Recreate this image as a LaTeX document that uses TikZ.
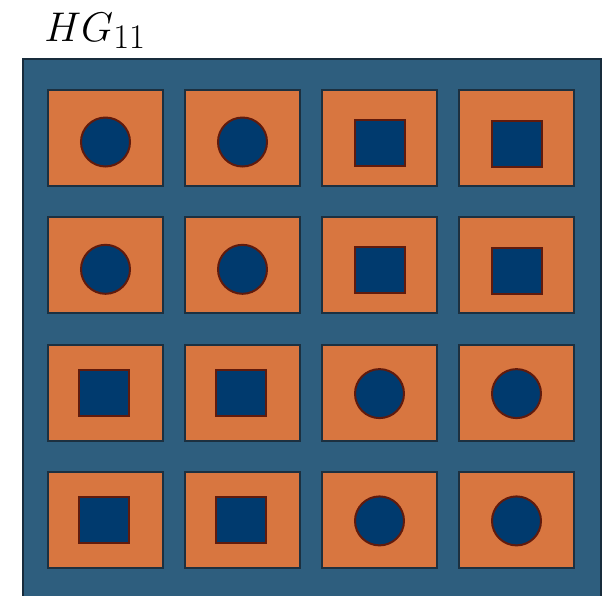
\documentclass[tikz,border=0pt]{standalone}
\usetikzlibrary{positioning}
\usepackage{amsmath}
\DeclareMathSizes{20.5}{20.5}{18}{14}
\definecolor{panelblue}{RGB}{46,94,126}
\definecolor{paneledge}{RGB}{24,44,60}
\definecolor{cellorange}{RGB}{216,118,64}
\definecolor{celledge}{RGB}{28,48,64}
\definecolor{markblue}{RGB}{0,58,110}
\definecolor{markedge}{RGB}{96,26,12}

\begin{document}
\begin{tikzpicture}[
    x=0.5pt, y=-0.5pt,
    panel/.style={
        draw=paneledge,
        fill=panelblue,
        line width=0.8pt
    },
    cell/.style={
        draw=celledge,
        fill=cellorange,
        line width=1pt,
        rectangle,
        minimum width=57.5pt,
        minimum height=48pt,
        inner sep=0pt
    },
    dot/.style={
        draw=markedge,
        fill=markblue,
        circle,
        line width=1pt,
        minimum size=24.5pt,
        inner sep=0pt
    },
    sqmark/.style={
        draw=markedge,
        fill=markblue,
        rectangle,
        line width=1pt,
        minimum width=25pt,
        minimum height=23pt,
        inner sep=0pt
    }
]
\useasboundingbox (0,0) rectangle (607,596);

% Title
\node[anchor=base west, inner sep=0pt] (title) at (44,41)
    {\fontsize{20.5}{24}\selectfont $HG_{11}$};

% Panel
\draw[panel] (23,59) rectangle (601,610);

% Cells
\foreach \r in {1,...,4} {
    \foreach \c in {1,...,4} {
        \node[cell] (c-\r-\c) at ({105.5+137*(\c-1)}, {138+127.3*(\r-1)}) {};
    }
}

% Top half: circles left, squares right
\foreach \r in {1,2} {
    \node[dot] (m-\r-1) at ([yshift=-2pt]c-\r-1) {};
    \node[dot] (m-\r-2) at ([yshift=-2pt]c-\r-2) {};
    \node[sqmark] (m-\r-3) at ([yshift=-2.5pt]c-\r-3) {};
    \node[sqmark] (m-\r-4) at ([yshift=-3pt]c-\r-4) {};
}

% Bottom half: squares left, circles right
\foreach \r in {3,4} {
    \node[sqmark] (m-\r-1) at ([xshift=-1pt]c-\r-1) {};
    \node[sqmark] (m-\r-2) at ([xshift=-1pt]c-\r-2) {};
    \node[dot] (m-\r-3) at ([yshift=-0.5pt]c-\r-3) {};
    \node[dot] (m-\r-4) at ([yshift=-0.5pt]c-\r-4) {};
}

\end{tikzpicture}
\end{document}
